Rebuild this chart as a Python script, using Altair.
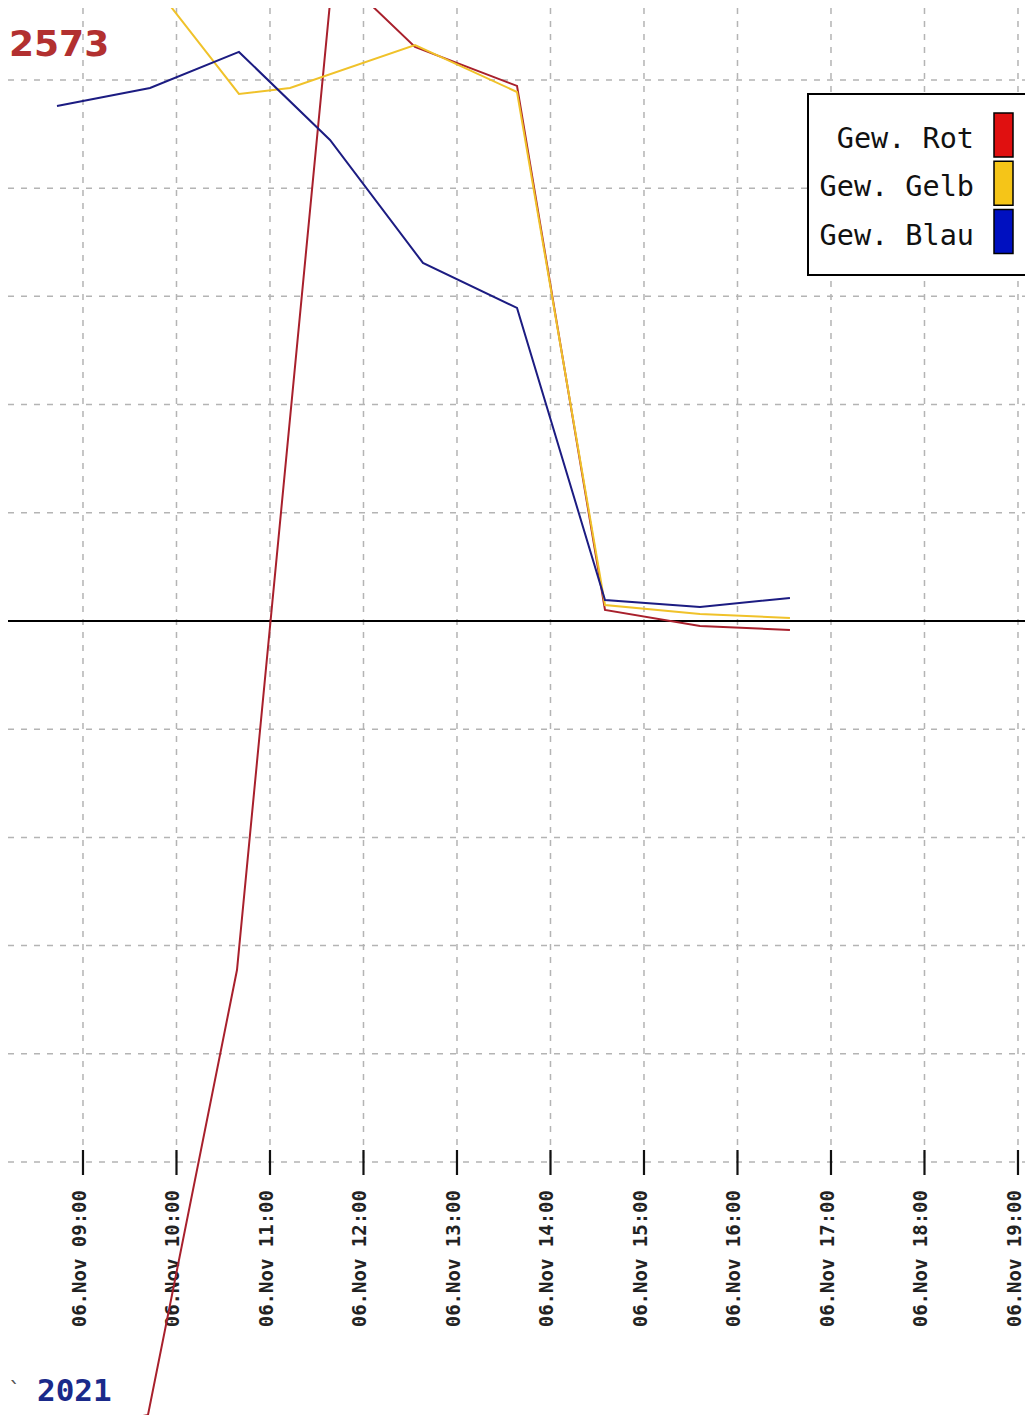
import altair as alt
import pandas as pd

# ---- data (x in hours of 06 Nov, y in grid units) ----
hours_rot = [8.72, 9.695, 10.647, 11.727, 12.048, 12.551, 13.642, 14.583, 15.599, 16.561]
vals_rot = [-7.50, -7.338, -3.226, 6.479, 5.721, 5.305, 4.945, 0.102, -0.046, -0.083]

hours_gelb = [8.722, 9.717, 10.668, 11.214, 12.551, 13.642, 14.583, 15.599, 16.561]
vals_gelb = [7.59, 5.924, 4.871, 4.926, 5.323, 4.889, 0.148, 0.065, 0.028]

hours_blau = [8.722, 9.717, 10.668, 11.642, 12.636, 13.642, 14.583, 15.599, 16.561]
vals_blau = [4.760, 4.926, 5.259, 4.445, 3.309, 2.893, 0.194, 0.129, 0.213]

tick_hours = [9, 10, 11, 12, 13, 14, 15, 16, 17, 18, 19]
tick_labels = ["06.Nov %02d:00" % h for h in tick_hours]
grid_values = [-5, -4, -3, -2, -1, 0, 1, 2, 3, 4, 5]

series_names = ["Gew. Rot", "Gew. Gelb", "Gew. Blau"]
line_colors = ["#a8202c", "#f0c22a", "#1c1c82"]
swatch_colors = ["#e01010", "#f5c518", "#0010c0"]

top_label = "2573"
bottom_label = "2021"

W, H = 1017, 1407
xs = alt.Scale(domain=[8.198, 19.075], nice=False, zero=False)
ys = alt.Scale(domain=[-7.338, 5.665], nice=False, zero=False)

rows = []
for name, hs, vs in zip(series_names, [hours_rot, hours_gelb, hours_blau],
                        [vals_rot, vals_gelb, vals_blau]):
    for h, v in zip(hs, vs):
        rows.append({"serie": name, "h": h, "v": v})
df = pd.DataFrame(rows)

ticks_df = pd.DataFrame({"h": tick_hours, "label": tick_labels})
grid_df = pd.DataFrame({"v": grid_values})
one = pd.DataFrame({"a": [0]})

leg_df = pd.DataFrame({
    "serie": series_names,
    "color": swatch_colors,
    "yc": [127 + 48.3 * i for i in range(3)],
})
leg_df["y0"] = leg_df["yc"] - 22
leg_df["y1"] = leg_df["yc"] + 22
leg_df["yt"] = leg_df["yc"] + 4

vgrid = alt.Chart(ticks_df).mark_rule(color="#b4b4b4", strokeWidth=1.5, strokeDash=[6, 7]).encode(
    x=alt.X("h:Q", scale=xs, axis=None), y=alt.value(0), y2=alt.value(1154))
hgrid = alt.Chart(grid_df[grid_df.v != 0]).mark_rule(color="#b4b4b4", strokeWidth=1.5, strokeDash=[6, 7]).encode(
    y=alt.Y("v:Q", scale=ys, axis=None), x=alt.value(0), x2=alt.value(W))
zero = alt.Chart(grid_df[grid_df.v == 0]).mark_rule(color="#000000", strokeWidth=2).encode(
    y=alt.Y("v:Q", scale=ys, axis=None), x=alt.value(0), x2=alt.value(W))
tickm = alt.Chart(ticks_df).mark_rule(color="#111111", strokeWidth=2.2).encode(
    x=alt.X("h:Q", scale=xs, axis=None), y=alt.value(1142), y2=alt.value(1167))
tlabels = alt.Chart(ticks_df).mark_text(angle=270, align="right", baseline="middle", dy=-3,
                                        font="DejaVu Sans Mono", fontSize=19, fontWeight="bold",
                                        color="#222222").encode(
    x=alt.X("h:Q", scale=xs, axis=None), y=alt.value(1182), text="label:N")

lines = alt.Chart(df).mark_line(strokeWidth=2, clip=True).encode(
    x=alt.X("h:Q", scale=xs, axis=None),
    y=alt.Y("v:Q", scale=ys, axis=None),
    color=alt.Color("serie:N", scale=alt.Scale(domain=series_names, range=line_colors), legend=None),
    order=alt.Order("h:Q"),
)

legbox = alt.Chart(one).mark_rect(fill="white", stroke="black", strokeWidth=2).encode(
    x=alt.value(800), x2=alt.value(1021), y=alt.value(86), y2=alt.value(267))
swatch = alt.Chart(leg_df).mark_rect(stroke="black", strokeWidth=1.5).encode(
    x=alt.value(986), x2=alt.value(1005),
    y=alt.Y("y0:Q", scale=None), y2="y1:Q",
    fill=alt.Color("color:N", scale=None))
legtext = alt.Chart(leg_df).mark_text(align="right", baseline="middle", font="DejaVu Sans Mono",
                                      fontSize=28.5, color="#111111").encode(
    x=alt.value(966), y=alt.Y("yt:Q", scale=None), text="serie:N")

toplab = alt.Chart(one).mark_text(align="left", baseline="middle", font="DejaVu Sans",
                                  fontSize=36, fontWeight="bold", color="#b23030").encode(
    x=alt.value(1), y=alt.value(37), text=alt.value(top_label))
botlab = alt.Chart(one).mark_text(align="left", baseline="middle", font="DejaVu Sans Mono",
                                  fontSize=31, fontWeight="bold", color="#1a2a8a").encode(
    x=alt.value(29), y=alt.value(1384), text=alt.value(bottom_label))
botmark = alt.Chart(one).mark_text(align="left", baseline="middle", font="DejaVu Sans Mono",
                                   fontSize=22, color="#555555").encode(
    x=alt.value(0), y=alt.value(1382), text=alt.value("`"))

chart = alt.layer(vgrid, hgrid, tickm, tlabels, zero, lines, legbox, swatch, legtext,
                  toplab, botlab, botmark).properties(
    width=W, height=H, padding=0, background="white",
    autosize=alt.AutoSizeParams(type="none")
).configure_view(stroke=None)

chart.save("out.html", embed_options={"renderer": "svg", "actions": False})
